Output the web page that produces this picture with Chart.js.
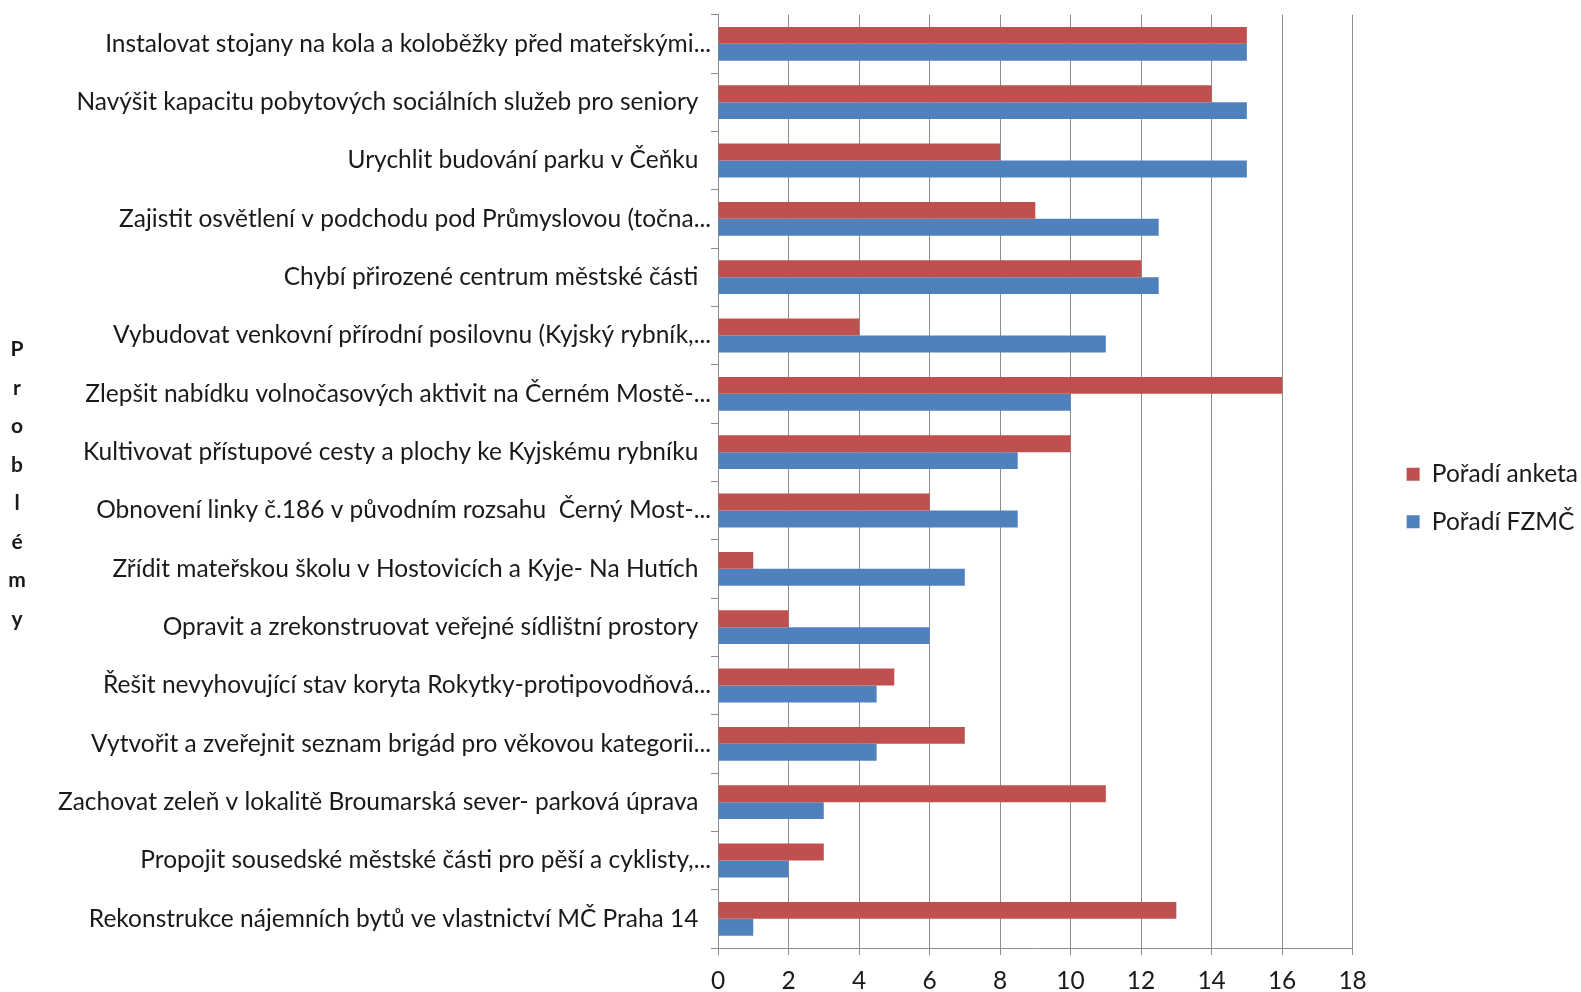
<!DOCTYPE html>
<html>
<head>
<meta charset="utf-8">
<script src="https://cdn.jsdelivr.net/npm/chart.js@4.4.1/dist/chart.umd.min.js"></script>
<style>
  html, body { margin: 0; padding: 0; background: #fff; }
  #wrap { width: 1581px; height: 992px; }
</style>
</head>
<body>
<div id="wrap"><canvas id="problemy-chart"></canvas></div>
<script>
const categories = [
  'Instalovat stojany na kola a koloběžky před mateřskými...',
  'Navýšit kapacitu pobytových sociálních služeb pro seniory',
  'Urychlit budování parku v Čeňku',
  'Zajistit osvětlení v podchodu pod Průmyslovou (točna...',
  'Chybí přirozené centrum městské části',
  'Vybudovat venkovní přírodní posilovnu (Kyjský rybník,...',
  'Zlepšit nabídku volnočasových aktivit na Černém Mostě-...',
  'Kultivovat přístupové cesty a plochy ke Kyjskému rybníku',
  'Obnovení linky č.186 v původním rozsahu  Černý Most-...',
  'Zřídit mateřskou školu v Hostovicích a Kyje- Na Hutích',
  'Opravit a zrekonstruovat veřejné sídlištní prostory',
  'Řešit nevyhovující stav koryta Rokytky-protipovodňová...',
  'Vytvořit a zveřejnit seznam brigád pro věkovou kategorii...',
  'Zachovat zeleň v lokalitě Broumarská sever- parková úprava',
  'Propojit sousedské městské části pro pěší a cyklisty,...',
  'Rekonstrukce nájemních bytů ve vlastnictví MČ Praha 14'
];
const poradiAnketa = [15, 14, 8, 9, 12, 4, 16, 10, 6, 1, 2, 5, 7, 11, 3, 13];
const poradiFzmc = [15, 15, 15, 12.5, 12.5, 11, 10, 8.5, 8.5, 7, 6, 4.5, 4.5, 3, 2, 1];
const seriesNames = ['Pořadí anketa', 'Pořadí FZMČ'];
const xMin = 0, xMax = 18, xStep = 2;
const axisTitle = 'Problémy';

const textColor = '#1a1a1a';
const lineColor = '#8c8c8c';
const labelFont = { family: 'Lato, "Open Sans", sans-serif', size: 24.5 };

// vertical, letter-by-letter axis title like the original
const stackedTitle = {
  id: 'stackedTitle',
  afterDraw(chart) {
    const ctx = chart.ctx;
    const letters = axisTitle.split('');
    const mid = (chart.chartArea.top + chart.chartArea.bottom) / 2 + 3;
    const step = 38.5;
    ctx.save();
    ctx.font = 'bold 21px Lato, "Open Sans", sans-serif';
    ctx.fillStyle = textColor;
    ctx.textAlign = 'center';
    ctx.textBaseline = 'middle';
    letters.forEach((ch, i) => {
      ctx.fillText(ch, 17, mid + (i - (letters.length - 1) / 2) * step);
    });
    ctx.restore();
  }
};

// push the legend a bit away from the plot, as in the original
const legendShift = {
  id: 'legendShift',
  afterUpdate(chart) {
    const lg = chart.legend;
    lg.left += 31; lg.right += 31;
    lg.top -= 3; lg.bottom -= 3;
  }
};

let ctx = document.getElementById('problemy-chart').getContext('2d');
new Chart(ctx, {
  type: 'bar',
  data: {
    labels: categories,
    datasets: [{
      label: seriesNames[0],
      data: poradiAnketa,
      backgroundColor: '#C0504D'
    }, {
      label: seriesNames[1],
      data: poradiFzmc,
      backgroundColor: '#4F81BD'
    }]
  },
  options: {
    indexAxis: 'y',
    responsive: true,
    maintainAspectRatio: false,
    animation: false,
    layout: { padding: { top: 10, right: 24, bottom: 0, left: 0 } },
    datasets: {
      bar: { categoryPercentage: 0.58, barPercentage: 1.0 }
    },
    scales: {
      x: {
        min: xMin,
        max: xMax,
        ticks: { stepSize: xStep, font: labelFont, color: textColor, padding: 11 },
        grid: { color: lineColor, tickLength: 7 },
        border: { color: lineColor },
        afterFit(scale) { scale.height = 44; }
      },
      y: {
        grid: { offset: true, drawOnChartArea: false, tickLength: 7, color: lineColor },
        border: { color: lineColor },
        ticks: {
          font: labelFont,
          color: textColor,
          padding: 0,
          autoSkip: false,
          callback: function (v) {
            const t = this.getLabelForValue(v);
            return t.endsWith('...') ? t : t + '  ';
          }
        },
        afterFit(scale) { scale.width = 718; }
      }
    },
    plugins: {
      legend: {
        position: 'right',
        labels: { boxWidth: 13, boxHeight: 13, padding: 23, font: labelFont, color: textColor }
      },
      tooltip: { enabled: false }
    }
  },
  plugins: [stackedTitle, legendShift]
});
</script>
</body>
</html>
